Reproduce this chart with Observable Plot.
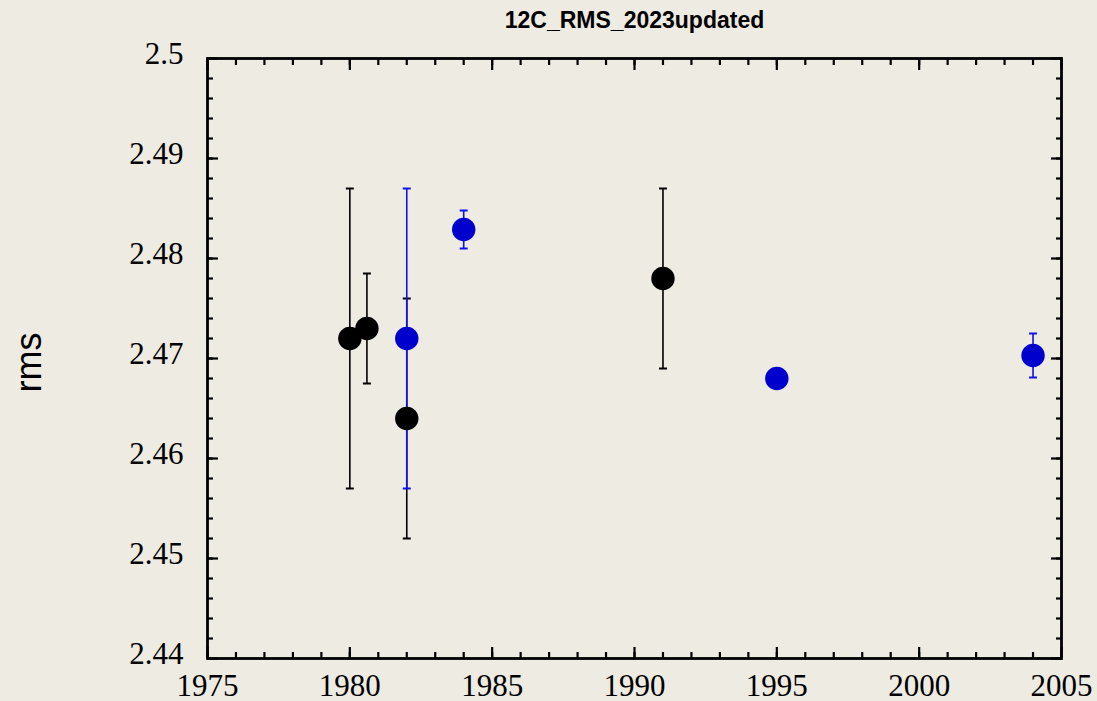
<!DOCTYPE html>
<html>
<head>
<meta charset="utf-8">
<script src="https://cdn.jsdelivr.net/npm/d3@7"></script>
<script src="https://cdn.jsdelivr.net/npm/@observablehq/plot@0.6"></script>
<style>
  html, body { margin: 0; padding: 0; background: #eeebe3; }
  #chart svg { display: block; }
</style>
</head>
<body>
<div id="chart"></div>
<script>
// Measurements of the 12C charge radius (rms), by year of publication
const blackYears  = [1980, 1980.6, 1982, 1991];
const blackRms    = [2.472, 2.473, 2.464, 2.478];
const blackErr    = [0.015, 0.0055, 0.012, 0.009];

const blueYears   = [1982, 1984, 1995, 2004];
const blueRms     = [2.472, 2.4829, 2.468, 2.4703];
const blueErr     = [0.015, 0.0019, 0, 0.0022];

// Axis ticks and labels
const xMajorTicks = [1975, 1980, 1985, 1990, 1995, 2000, 2005];
const xTickLabels = ["1975", "1980", "1985", "1990", "1995", "2000", "2005"];
const xMinorTicks = d3.range(1975, 2006, 1);
const yMajorTicks = [2.44, 2.45, 2.46, 2.47, 2.48, 2.49, 2.5];
const yTickLabels = ["2.44", "2.45", "2.46", "2.47", "2.48", "2.49", "2.5"];
const yMinorTicks = d3.ticks(2.44, 2.5, 30);

const titleText = "12C_RMS_2023updated";
const yLabelText = "rms";

const rows = (years, rms, err) =>
  years.map((x, i) => ({x, y: rms[i], lo: rms[i] - err[i], hi: rms[i] + err[i], err: err[i]}));
const black = rows(blackYears, blackRms, blackErr);
const blue = rows(blueYears, blueRms, blueErr);

// short horizontal stroke used for error-bar caps
const capSymbol = {
  draw(context, size) {
    const w = Math.sqrt(size) / 2;
    context.moveTo(-w, 0);
    context.lineTo(w, 0);
  }
};

const errorBars = (data, color) => {
  const withErr = data.filter(d => d.err > 0);
  return [
    Plot.ruleX(withErr, {x: "x", y1: "lo", y2: "hi", stroke: color, strokeWidth: 1.6}),
    Plot.dot(withErr, {x: "x", y: "lo", symbol: capSymbol, r: 4.5, stroke: color, strokeWidth: 2}),
    Plot.dot(withErr, {x: "x", y: "hi", symbol: capSymbol, r: 4.5, stroke: color, strokeWidth: 2})
  ];
};

const SERIF = "Liberation Serif";
const SANS = "Liberation Sans";

const tickStyle = {stroke: "black", strokeWidth: 2.2, fill: "none", label: null};
const labelFont = {fontFamily: SERIF, fontSize: 31, fill: "black"};

const chart = Plot.plot({
  width: 1097,
  height: 701,
  marginLeft: 207,
  marginRight: 36,
  marginTop: 58,
  marginBottom: 43,
  style: {background: "#eeebe3", overflow: "visible"},
  x: {domain: [1975, 2005], axis: null},
  y: {domain: [2.44, 2.5], axis: null},
  marks: [
    // inward ticks on all four sides
    Plot.axisX(xMinorTicks, {anchor: "bottom", tickSize: -6, ...tickStyle}),
    Plot.axisX(xMajorTicks, {anchor: "bottom", tickSize: -11, ...tickStyle}),
    Plot.axisX(xMinorTicks, {anchor: "top", tickSize: -6, ...tickStyle}),
    Plot.axisX(xMajorTicks, {anchor: "top", tickSize: -11, ...tickStyle}),
    Plot.axisY(yMinorTicks, {anchor: "left", tickSize: -6, ...tickStyle}),
    Plot.axisY(yMajorTicks, {anchor: "left", tickSize: -11, ...tickStyle}),
    Plot.axisY(yMinorTicks, {anchor: "right", tickSize: -6, ...tickStyle}),
    Plot.axisY(yMajorTicks, {anchor: "right", tickSize: -11, ...tickStyle}),
    // tick labels
    Plot.text(xMajorTicks, {
      x: d => d, text: (d, i) => xTickLabels[i], frameAnchor: "bottom",
      lineAnchor: "top", dy: 15, ...labelFont
    }),
    Plot.text(yMajorTicks, {
      y: d => d, text: (d, i) => yTickLabels[i], frameAnchor: "left",
      textAnchor: "end", dx: -24, dy: -4, ...labelFont
    }),
    Plot.frame({stroke: "black", strokeWidth: 2.8}),
    // error bars, then points
    ...errorBars(black, "black"),
    ...errorBars(blue, "#1010f0"),
    Plot.dot(black, {x: "x", y: "y", r: 11.7, fill: "black"}),
    Plot.dot(blue, {x: "x", y: "y", r: 11.7, fill: "#0000cd"}),
    // title and y label
    Plot.text([titleText], {
      text: d => d, frameAnchor: "top", dy: -47, textAnchor: "middle",
      fontFamily: SANS, fontWeight: "bold", fontSize: 23, fill: "black"
    }),
    Plot.text([yLabelText], {
      text: d => d, frameAnchor: "left", dx: -178, dy: 4, rotate: -90, textAnchor: "middle",
      fontFamily: SANS, fontSize: 36, fill: "black"
    })
  ]
});

document.getElementById("chart").append(chart);
</script>
</body>
</html>
